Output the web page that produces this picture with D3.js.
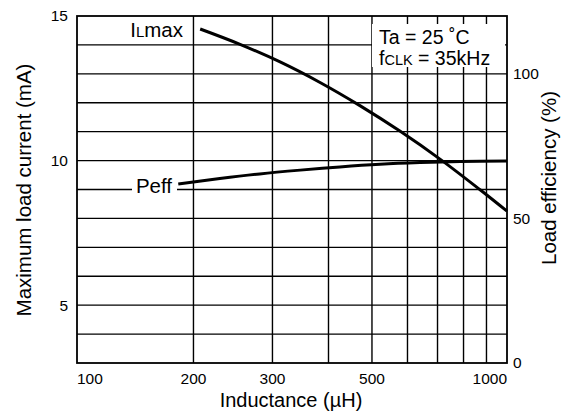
<!DOCTYPE html>
<html>
<head>
<meta charset="utf-8">
<script src="https://cdn.jsdelivr.net/npm/d3@7"></script>
<style>
  html, body { margin: 0; padding: 0; background: #fff; }
  svg { display: block; font-family: "Liberation Sans", Arial, Helvetica, sans-serif; }
</style>
</head>
<body>
<div id="chart"></div>
<script>
// ---- data ----
const inductanceDomain = [110, 1000];           // µH, log axis extent
const currentDomain = [3, 15];                   // mA, left axis
const efficiencyDomain = [0, 120];               // %, right axis
const xTickValues = [100, 200, 300, 500, 1000];
const xTickLabels = ["100", "200", "300", "500", "1000"];
const xGridValues = [200, 300, 400, 500, 600, 700, 800, 900];
const yLeftTickValues = [15, 10, 5];
const yLeftTickLabels = ["15", "10", "5"];
const yGridValues = [4, 5, 6, 7, 8, 9, 10, 11, 12, 13, 14];
const yRightTickValues = [100, 50, 0];
const yRightTickLabels = ["100", "50", "0"];

// ILmax curve: inductance (µH) vs maximum load current (mA)
const ilmaxL = [207, 254, 312, 383, 470, 577, 709, 871, 1000];
const ilmaxI = [14.55, 14.02, 13.41, 12.70, 11.90, 11.02, 10.05, 8.99, 8.25];
// Peff curve: inductance (µH) vs load efficiency (%)
const peffL = [185, 229, 281, 346, 424, 521, 640, 786, 1000];
const peffE = [61.9, 63.8, 65.4, 66.7, 67.8, 68.7, 69.3, 69.7, 69.86];

// ---- layout ----
const W = 561, H = 414;
const plot = { left: 77, right: 507, top: 16, bottom: 363 };

const svg = d3.select("#chart").append("svg")
  .attr("width", W).attr("height", H);

const x = d3.scaleLog().domain(inductanceDomain).range([plot.left, plot.right]);
const yL = d3.scaleLinear().domain(currentDomain).range([plot.bottom, plot.top]);
const yR = d3.scaleLinear().domain(efficiencyDomain).range([plot.bottom, plot.top]);

// grid
const grid = svg.append("g").attr("stroke", "#000").attr("stroke-width", 1.4);
grid.selectAll("line.h").data(yGridValues).join("line")
  .attr("x1", plot.left).attr("x2", plot.right)
  .attr("y1", d => yL(d)).attr("y2", d => yL(d));
grid.selectAll("line.v").data(xGridValues).join("line")
  .attr("y1", plot.top).attr("y2", plot.bottom)
  .attr("x1", d => x(d)).attr("x2", d => x(d));

// frame
svg.append("rect")
  .attr("x", plot.left).attr("y", plot.top)
  .attr("width", plot.right - plot.left).attr("height", plot.bottom - plot.top)
  .attr("fill", "none").attr("stroke", "#000").attr("stroke-width", 1.8);

// condition box (covers grid)
svg.append("rect")
  .attr("x", 372).attr("y", 24).attr("width", 133).attr("height", 43)
  .attr("fill", "#fff");
svg.append("text").attr("font-size", 19.5).attr("fill", "#000")
  .attr("x", 379).attr("y", 44).text("Ta = 25 ˚C");
const fclk = svg.append("text").attr("font-size", 19.5).attr("fill", "#000")
  .attr("x", 379).attr("y", 65);
fclk.append("tspan").text("f");
fclk.append("tspan").attr("font-size", 14.5).text("CLK");
fclk.append("tspan").text(" = 35kHz");

// curves
const lineI = d3.line().x(d => x(d[0])).y(d => yL(d[1])).curve(d3.curveCatmullRom);
const lineE = d3.line().x(d => x(d[0])).y(d => yR(d[1])).curve(d3.curveCatmullRom);
svg.append("path").datum(d3.zip(ilmaxL, ilmaxI))
  .attr("d", lineI).attr("fill", "none").attr("stroke", "#000").attr("stroke-width", 3);
svg.append("path").datum(d3.zip(peffL, peffE))
  .attr("d", lineE).attr("fill", "none").attr("stroke", "#000").attr("stroke-width", 3);

// curve labels
const il = svg.append("text").attr("font-size", 20.5).attr("text-anchor", "end")
  .attr("x", 183).attr("y", 37).attr("fill", "#000");
il.append("tspan").text("I");
il.append("tspan").attr("font-size", 15).text("L");
il.append("tspan").text("max");

svg.append("rect").attr("x", 132).attr("y", 176).attr("width", 45).attr("height", 20).attr("fill", "#fff");
svg.append("text").attr("font-size", 20.5).attr("text-anchor", "middle")
  .attr("x", 154).attr("y", 193).attr("fill", "#000").text("Peff");

// x tick labels
svg.append("g").selectAll("text").data(xTickValues).join("text")
  .attr("font-size", 15.5).attr("fill", "#000")
  .attr("x", d => Math.min(Math.max(x(d), plot.left), plot.right))
  .attr("y", 384)
  .attr("text-anchor", (d, i) => i === 0 ? "start" : (i === xTickValues.length - 1 ? "end" : "middle"))
  .text((d, i) => xTickLabels[i]);

// left tick labels
svg.append("g").selectAll("text").data(yLeftTickValues).join("text")
  .attr("font-size", 15.5).attr("fill", "#000")
  .attr("x", 68).attr("y", d => yL(d)).attr("dy", "0.35em")
  .attr("text-anchor", "end")
  .text((d, i) => yLeftTickLabels[i]);

// right tick labels
svg.append("g").selectAll("text").data(yRightTickValues).join("text")
  .attr("font-size", 15.5).attr("fill", "#000")
  .attr("x", 513).attr("y", d => yR(d)).attr("dy", "0.35em")
  .attr("text-anchor", "start")
  .text((d, i) => yRightTickLabels[i]);

// axis titles
svg.append("text").attr("font-size", 20).attr("text-anchor", "middle").attr("fill", "#000")
  .attr("x", 291).attr("y", 407).text("Inductance (µH)");
svg.append("text").attr("font-size", 20.5).attr("text-anchor", "middle").attr("fill", "#000")
  .attr("transform", "translate(31,190) rotate(-90)").text("Maximum load current (mA)");
svg.append("text").attr("font-size", 20.5).attr("text-anchor", "middle").attr("fill", "#000")
  .attr("transform", "translate(556,178) rotate(-90)").text("Load efficiency (%)");
</script>
</body>
</html>
